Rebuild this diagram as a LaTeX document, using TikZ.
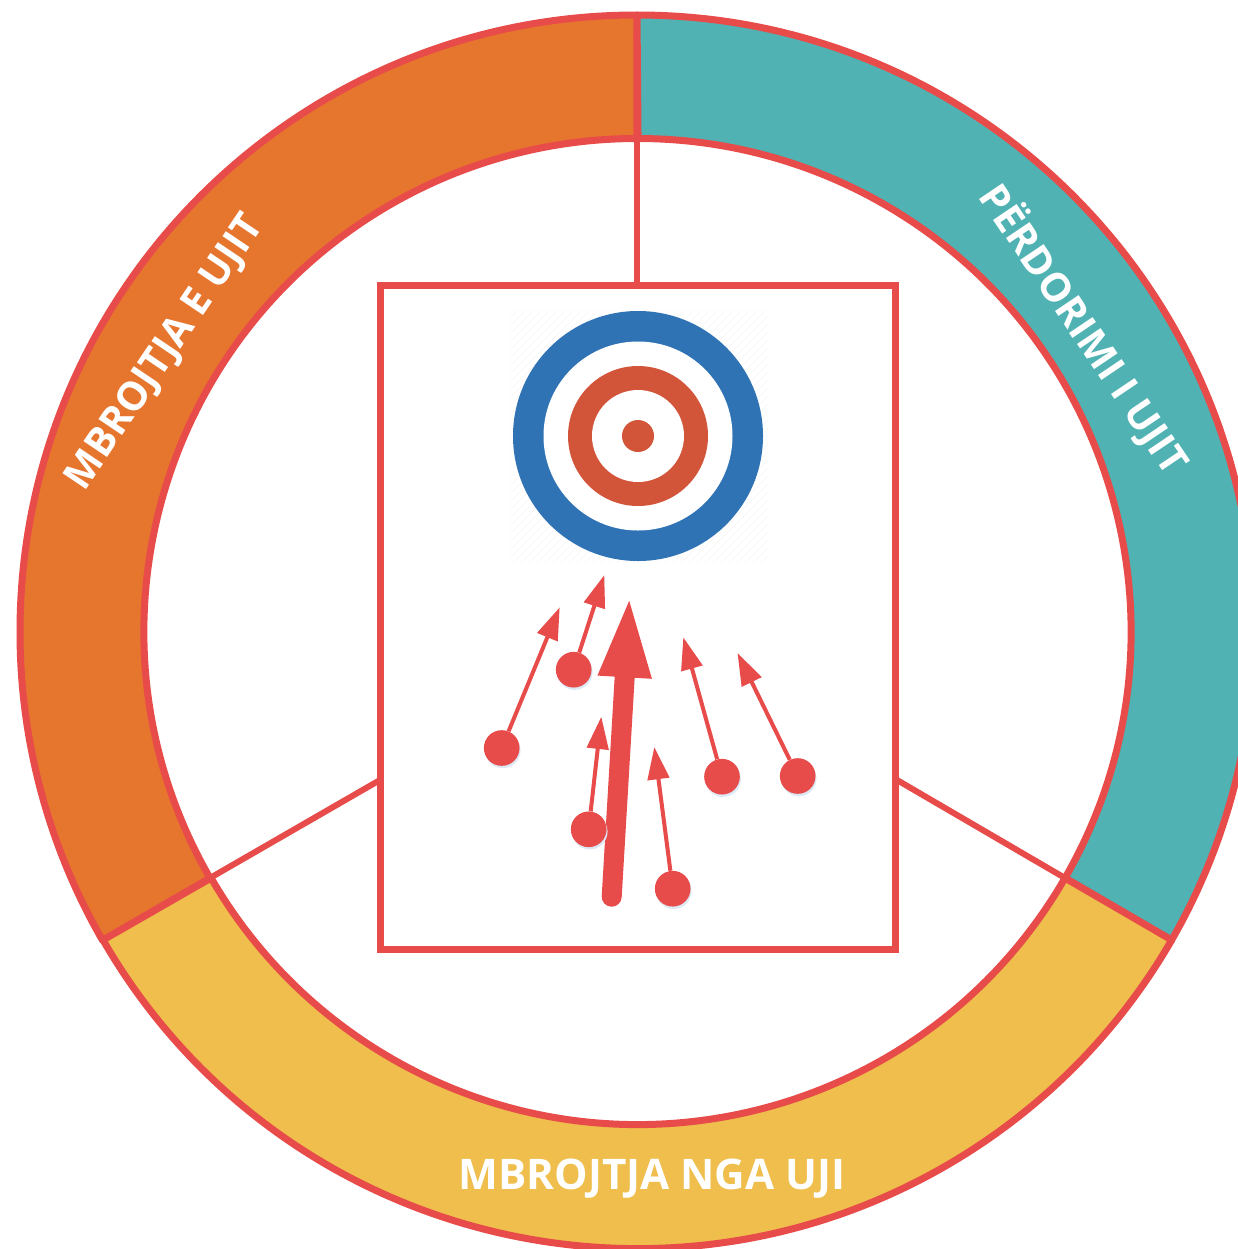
\documentclass[tikz,border=0pt]{standalone}
\usepackage{fontspec}
\setmainfont{Open Sans}
\usetikzlibrary{arrows.meta,shadows}
\definecolor{ringred}{HTML}{E84C4A}
\definecolor{ringorange}{HTML}{E6752E}
\definecolor{ringteal}{HTML}{50B2B3}
\definecolor{ringyellow}{HTML}{EFBE4C}
\definecolor{tblue}{HTML}{2F73B5}
\definecolor{tred}{HTML}{D2553A}
\definecolor{softshadow}{HTML}{DCE8F4}
\tikzset{
  x=0.03cm,y=-0.03cm,
  ring/.style={draw=ringred,line width=0.21cm,line join=round},
  spoke/.style={draw=ringred,line width=0.18cm},
  ringlabel/.style={text=white,font=\fontsize{36}{36}\selectfont\bfseries,inner sep=0pt},
  sidelabel/.style={text=white,font=\fontsize{34}{34}\selectfont\bfseries,inner sep=0pt},
  dotnode/.style={circle,fill=ringred,minimum size=1.07cm,inner sep=0pt,
    general shadow={shadow xshift=0.03cm,shadow yshift=-0.07cm,fill=softshadow}},
  thinarrow/.style={draw=ringred,fill=ringred,line width=0.12cm,
    -{Triangle[length=0.97cm,width=0.64cm,fill=ringred]}},
  bigarrow/.style={draw=ringred,line width=0.6cm,line cap=round,
    -{Triangle[length=2.5cm,width=1.42cm,fill=ringred]}},
}
\begin{document}
\begin{tikzpicture}
\useasboundingbox (0,0) rectangle (1238,1249);
\clip (0,0) rectangle (1238,1249);
% ring sectors
\draw[ring,fill=ringorange] (637,15) arc[start angle=90,end angle=210,radius=0.03cm*617]
  -- (210,878) arc[start angle=210,end angle=90,radius=0.03cm*493] -- cycle;
\draw[ring,fill=ringteal] (637,15) arc[start angle=90,end angle=-30,radius=0.03cm*617]
  -- (1065,878) arc[start angle=-30,end angle=90,radius=0.03cm*493] -- cycle;
\draw[ring,fill=ringyellow] (103,940) arc[start angle=210,end angle=330,radius=0.03cm*617]
  -- (1065,878) arc[start angle=330,end angle=210,radius=0.03cm*493] -- cycle;
% spokes
\coordinate (topin) at (637,137);
\coordinate (leftin) at (210,878);
\coordinate (rightin) at (1065,878);
\node[draw=ringred,fill=white,line width=0.21cm,minimum width=15.42cm,minimum height=19.9cm,inner sep=0pt,
  general shadow={shadow xshift=0.03cm,shadow yshift=-0.06cm,fill=softshadow}] (box) at (638,617.5) {};
\draw[spoke] (topin) -- (box.north -| topin);
\coordinate (leftb) at (380,780);
\coordinate (rightb) at (897,780);
\draw[spoke] (leftin) -- (leftb);
\draw[spoke] (rightin) -- (rightb);
% labels
\node[sidelabel,rotate=56] (l1) at (166,353) {MBROJTJA E UJIT};
\node[sidelabel,rotate=-56] (l2) at (1084,329) {PËRDORIMI I UJIT};
\node[ringlabel] (l3) at (652,1179) {MBROJTJA NGA UJI};
% target
\begin{scope}
\clip (510,310) rectangle (768,562);
\foreach \i in {0,8,...,520}{
  \draw[black!6,line width=0.1pt] (510+\i,310) -- (510+\i-260,570);
}
\end{scope}
\node[circle,fill=tblue,minimum size=7.5cm,inner sep=0pt] (t1) at (638,436) {};
\node[circle,fill=white,minimum size=5.67cm,inner sep=0pt] (t2) at (638,436) {};
\node[circle,fill=tred,minimum size=4.2cm,inner sep=0pt] (t3) at (638,436) {};
\node[circle,fill=white,minimum size=2.76cm,inner sep=0pt] (t4) at (638,436) {};
\node[circle,fill=tred,minimum size=0.96cm,inner sep=0pt] (t5) at (638,436) {};
% big arrow
\coordinate (bs) at (611.7,896.7);
\coordinate (bt) at (629.6,594);
\draw[bigarrow] (bs) -- (bt);
% small arrows
\node[dotnode] (d1) at (501.7,748) {};
\node[dotnode] (d2) at (573.7,669.7) {};
\node[dotnode] (d3) at (588.7,829.3) {};
\node[dotnode] (d4) at (672.7,888.7) {};
\node[dotnode] (d5) at (722,776.7) {};
\node[dotnode] (d6) at (797.7,776) {};
\coordinate (e1) at (559.7,607.3);
\coordinate (e2) at (604.3,575);
\coordinate (e3) at (601.3,716.7);
\coordinate (e4) at (654.3,747);
\coordinate (e5) at (683.3,637.3);
\coordinate (e6) at (737.5,653);
\foreach \n in {1,...,6}{\draw[thinarrow] (d\n) -- (e\n);}
\end{tikzpicture}
\end{document}
